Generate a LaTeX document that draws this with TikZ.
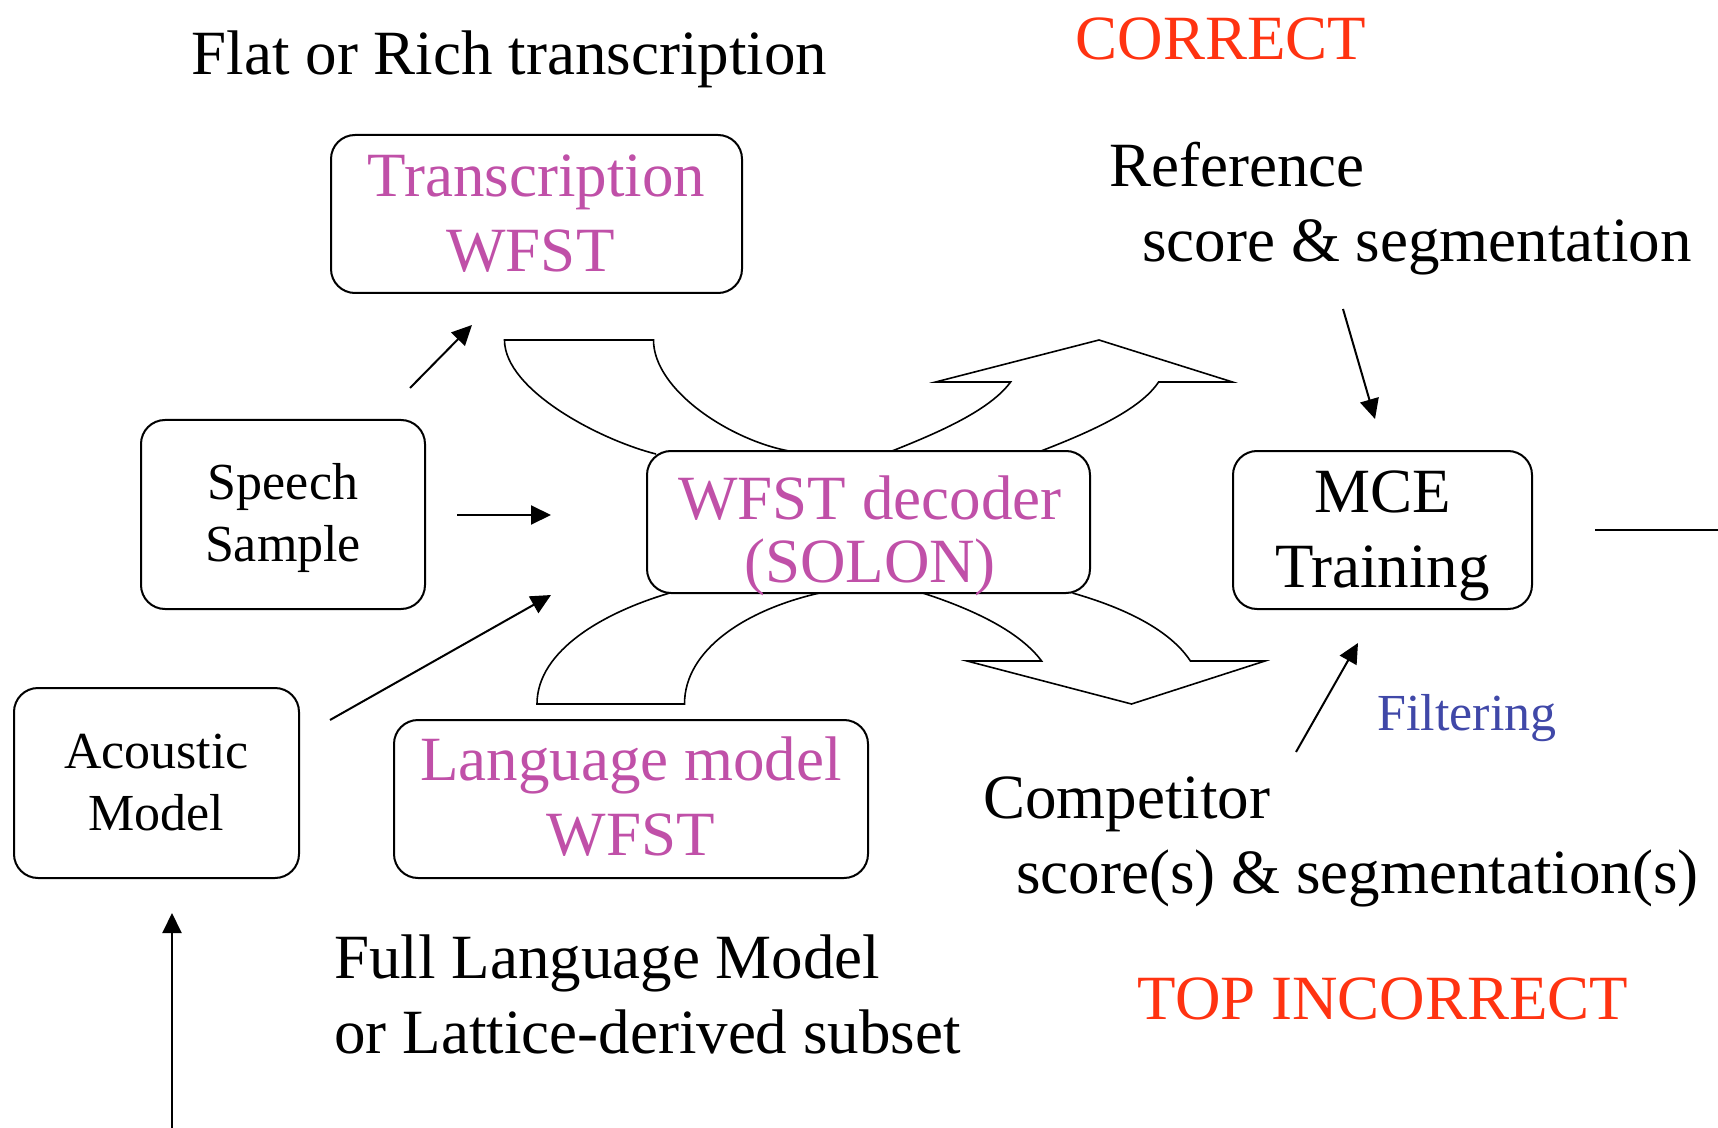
\documentclass[tikz,border=0pt]{standalone}
\usepackage{fontspec}
\setmainfont{Liberation Serif}
\usetikzlibrary{arrows.meta}
\definecolor{myred}{RGB}{255,51,17}
\definecolor{mymag}{RGB}{192,80,168}
\definecolor{myblue}{RGB}{64,72,168}
\begin{document}
\begin{tikzpicture}[x=0.5pt,y=-0.5pt,
  box/.style={draw, line width=1pt, rounded corners=12pt, fill=white, inner sep=0pt},
  big/.style={font=\fontsize{31.5}{37.5}\selectfont, inner sep=0pt},
  small/.style={font=\fontsize{26}{31}\selectfont, inner sep=0pt},
  arr/.style={line width=1pt, -{Triangle[length=10pt,width=9.5pt]}},
  bigarrow/.style={draw, line width=0.8pt, fill=white, line join=miter}]
\useasboundingbox (0,0) rectangle (1718,1128);

% curved block arrows
\draw[bigarrow] (656,454) .. controls (600,440) and (504.5,390) .. (504.5,340)
  -- (653.5,340) .. controls (653.5,390) and (730,440) .. (789,451);
\draw[bigarrow] (892,451) .. controls (940,432) and (990,410) .. (1010.6,382)
  -- (935.6,382) -- (1099,340) -- (1232.5,382) -- (1158.6,382)
  .. controls (1140,410) and (1090,432) .. (1041,451);
\draw[bigarrow] (669.8,593) .. controls (605,612) and (537,650) .. (537,704)
  -- (684.5,704) .. controls (684.5,650) and (745,610) .. (819.6,593);
\draw[bigarrow] (922.7,593) .. controls (975,610) and (1020,632) .. (1041.6,661)
  -- (967,661) -- (1131.5,704) -- (1265,661) -- (1190.4,661)
  .. controls (1170,630) and (1125,608) .. (1072.5,593);

% boxes
\node[box, minimum width=205.5pt, minimum height=79pt] (trans) at (536.5,214) {};
\node[big, text=mymag, align=center] (transT) at (trans) {Transcription\\WFST\hspace*{6pt}};

\node[box, minimum width=142pt, minimum height=94.5pt] (speech) at (283,514.5) {};
\node[small, align=center] (speechT) at (283,518) {Speech\\Sample};

\node[box, minimum width=142.5pt, minimum height=95pt] (acoustic) at (156.5,783) {};
\node[small, align=center] (acousticT) at (acoustic) {Acoustic\\Model};

\node[box, minimum width=221.5pt, minimum height=71pt] (dec) at (868.5,522) {};
\node[big, text=mymag, align=center, font=\fontsize{31.5}{31.5}\selectfont] (decT) at (870,535.5) {WFST decoder\\(SOLON)};

\node[box, minimum width=149.5pt, minimum height=79pt] (mce) at (1382.5,530) {};
\node[big, align=center] (mceT) at (1382.5,535.5) {MCE\\Training};

\node[box, minimum width=237pt, minimum height=79pt] (lang) at (631,799) {};
\node[big, text=mymag, align=center] (langT) at (631,797) {Language model\\WFST};

% free texts
\node[big] (flat) at (509.5,59.5) {Flat or Rich transcription};
\node[big, text=myred] (correct) at (1221,39) {CORRECT};
\node[big, anchor=west, align=left] (ref) at (1109,208.5) {Reference\\\hspace*{16.5pt}score \& segmentation};
\node[small, text=myblue, anchor=west] (filt) at (1377,718.5) {Filtering};
\node[big, anchor=west, align=left] (comp) at (983,841.5) {Competitor\\\hspace*{16.5pt}score(s) \& segmentation(s)};
\node[big, text=myred] (topinc) at (1383,999) {TOP INCORRECT};
\node[big, anchor=west, align=left] (full) at (334,994) {Full Language Model\\or Lattice-derived subset};

% arrow end points
\coordinate (a1s) at (410,388);  \coordinate (a1e) at (472,325);
\coordinate (a2s) at (457,515);  \coordinate (a2e) at (551,515);
\coordinate (a3s) at (330,720);  \coordinate (a3e) at (551,595);
\coordinate (a4s) at (172,1128); \coordinate (a4e) at (172,913);
\coordinate (a5s) at (1343,309); \coordinate (a5e) at (1375,419);
\coordinate (a6s) at (1296,752); \coordinate (a6e) at (1358,643);
\coordinate (outs) at (1595,530); \coordinate (oute) at (1718,530);

\draw[arr] (a1s) -- (a1e);
\draw[arr] (a2s) -- (a2e);
\draw[arr] (a3s) -- (a3e);
\draw[arr] (a4s) -- (a4e);
\draw[arr] (a5s) -- (a5e);
\draw[arr] (a6s) -- (a6e);
\draw[line width=1pt] (outs) -- (oute);
\end{tikzpicture}
\end{document}
